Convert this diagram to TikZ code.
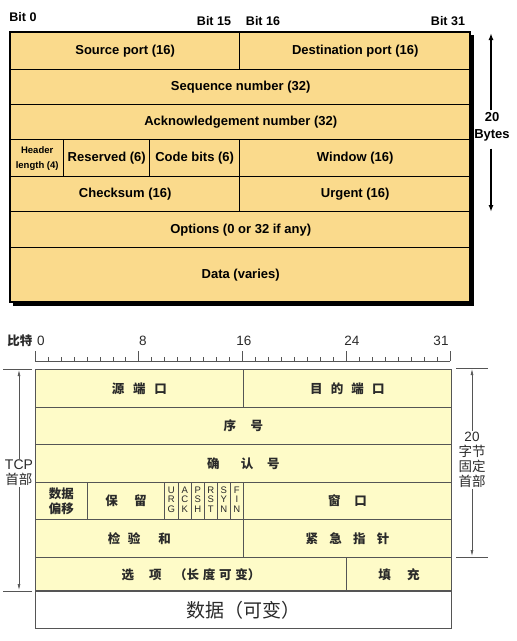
\documentclass[tikz,border=0pt]{standalone}
\usepackage{fontspec}
\setmainfont{Liberation Sans}
\newfontfamily\cjk{Noto Sans CJK SC}
\usetikzlibrary{arrows.meta}
\definecolor{tanfill}{HTML}{FADA8C}
\definecolor{creamfill}{HTML}{FEFBC8}
\definecolor{gline}{HTML}{555555}
\definecolor{gtext}{HTML}{2A2A2A}
\newcommand\fld[7]{\node[#1, minimum width={(#5-#3)*1pt}, minimum height={(#6-#4)*1pt}] (#2) at (#3,#4) {#7};}
\newcommand\zg[1]{\hspace{#1em}}
\begin{document}
\begin{tikzpicture}[x=1pt,y=-1pt,
  tf/.style={draw=black, line width=1.4pt, fill=tanfill, anchor=north west, inner sep=0pt,
    font=\bfseries\fontsize{13}{15}\selectfont, align=center},
  bf/.style={draw=gline, line width=0.8pt, fill=creamfill, anchor=north west, inner sep=0pt,
    font=\cjk\bfseries\fontsize{12.5}{15}\selectfont, text=gtext, align=center},
  flag/.style={draw=gline, line width=0.8pt, fill=creamfill, anchor=north west, inner sep=0pt,
    text=gtext, font=\fontsize{9.5}{9.5}\selectfont, align=center, text depth=3pt},
  bitlbl/.style={font=\bfseries\fontsize{12.5}{14}\selectfont},
  rulelbl/.style={font=\fontsize{13.5}{15}\selectfont, text=gtext},
  bigarrow/.style={-{Latex[length=7pt,width=5pt]}, line width=1.8pt},
  thinarrow/.style={-{Latex[length=6pt,width=3pt]}, line width=0.7pt, draw=gline},
  guide/.style={line width=0.7pt, draw=gline}]
\useasboundingbox (0,0) rectangle (517,641);

% ---------- top diagram ----------
\node[bitlbl] (b0) at (23,17) {Bit 0};
\node[bitlbl] (b15) at (214,21) {Bit 15};
\node[bitlbl] (b16) at (263,21) {Bit 16};
\node[bitlbl] (b31) at (448,21) {Bit 31};

\fill[black] (12.5,34.5) rectangle (473.5,305.5);
\fld{tf}{sport}{10}{32}{239}{69}{Source port (16)}
\fld{tf}{dport}{239}{32}{470}{69}{Destination port (16)}
\fld{tf}{seq}{10}{69}{470}{104}{Sequence number (32)}
\fld{tf}{ack}{10}{104}{470}{139}{Acknowledgement number (32)}
\fld{tf}{hlen}{10}{139}{63}{176}{\fontsize{9.5}{10.5}\selectfont Header\\\fontsize{9.5}{10.5}\selectfont length (4)}
\fld{tf}{resv}{63}{139}{149}{176}{Reserved (6)}
\fld{tf}{code}{149}{139}{239}{176}{Code bits (6)}
\fld{tf}{win}{239}{139}{470}{176}{Window (16)}
\fld{tf}{csum}{10}{176}{239}{211}{Checksum (16)}
\fld{tf}{urg}{239}{176}{470}{211}{Urgent (16)}
\fld{tf}{opt}{10}{211}{470}{247}{Options (0 or 32 if any)}
\fld{tf}{data}{10}{247}{470}{302}{Data (varies)}
\draw[line width=2.2pt] (10,32) rectangle (470,302);

\node[font=\bfseries\fontsize{13}{17}\selectfont, align=center, inner sep=1pt] (bytes) at (492,127) {20\\Bytes};
\coordinate (ttop) at (491,33);
\coordinate (tbot) at (491,212);
\draw[bigarrow] (bytes.north) ++(-1,-1) -- (ttop);
\draw[bigarrow] (bytes.south) ++(-1,6) -- (tbot);

% ---------- bottom diagram ----------
\node[font=\cjk\bfseries\fontsize{12.5}{14}\selectfont, text=gtext] (bite) at (20,341) {比特};
\node[rulelbl] (r0) at (41,341) {0};
\node[rulelbl] (r8) at (143,341) {8};
\node[rulelbl] (r16) at (244,341) {16};
\node[rulelbl] (r24) at (352,341) {24};
\node[rulelbl] (r31) at (441,341) {31};
\draw[guide, line width=0.6pt] (35,361) -- (450,361);
\foreach \i in {0,...,32}{
  \pgfmathsetmacro\xx{35+\i*12.97}
  \draw[guide, line width=0.6pt] (\xx,361) -- (\xx,357);
}
\foreach \i in {0,8,16,24,32}{
  \pgfmathsetmacro\xx{35+\i*12.97}
  \draw[guide, line width=0.7pt] (\xx,361) -- (\xx,351);
}

\fld{bf}{ysport}{35}{369}{243}{407}{源\zg{0.7}端\zg{0.7}口}
\fld{bf}{ydport}{243}{369}{451}{407}{目\zg{0.65}的\zg{0.65}端\zg{0.65}口}
\fld{bf}{yseq}{35}{407}{451}{444}{序\zg{1.15}号}
\fld{bf}{yack}{35}{444}{451}{482}{确\zg{1.7}认\zg{1.1}号}
\fld{bf}{yoff}{35}{482}{87}{519}{\fontsize{12.5}{15}\selectfont 数据\\偏移}
\fld{bf}{yresv}{87}{482}{164}{519}{保\zg{1.3}留}
\fld{flag}{furg}{164}{482}{178}{519}{U\\R\\G}
\fld{flag}{fack}{178}{482}{191}{519}{A\\C\\K}
\fld{flag}{fpsh}{191}{482}{204}{519}{P\\S\\H}
\fld{flag}{frst}{204}{482}{217}{519}{R\\S\\T}
\fld{flag}{fsyn}{217}{482}{230}{519}{S\\Y\\N}
\fld{flag}{ffin}{230}{482}{243}{519}{F\\I\\N}
\fld{bf}{ywin}{243}{482}{451}{519}{窗\zg{1.1}口}
\fld{bf}{ycsum}{35}{519}{243}{557}{检\zg{0.6}验\zg{1.45}和}
\fld{bf}{yurg}{243}{519}{451}{557}{紧\zg{0.9}急\zg{0.9}指\zg{0.9}针}
\fld{bf}{yopt}{35}{557}{346}{591}{选\zg{1.2}项\zg{1}（长\zg{0.3}度\zg{0.3}可\zg{0.3}变）}
\fld{bf}{ypad}{346}{557}{451}{591}{填\zg{1.3}充}
\fld{bf, fill=white}{ydata}{35}{591}{451}{628}{\mdseries\fontsize{19}{22}\selectfont 数据（可变）}
\draw[draw=gline, line width=1.8pt] (35,591) -- (451,591);
\draw[draw=gline, line width=1pt] (35,369) rectangle (451,628);

% left bracket
\draw[guide] (3,369) -- (32,369);
\draw[guide] (3,591) -- (32,591);
\node[font=\fontsize{14}{17}\selectfont, text=gtext, align=center, inner sep=1pt] (tcp) at (19,473) {TCP\\[-2pt]{\cjk\fontsize{13.5}{15}\selectfont 首部}};
\coordinate (ltop) at (19,370);
\coordinate (lbot) at (19,590);
\draw[thinarrow] (tcp.north) -- (ltop);
\draw[thinarrow] (tcp.south) -- (lbot);

% right bracket
\draw[guide] (456,368) -- (488,368);
\draw[guide] (456,557) -- (488,557);
\node[font=\cjk\fontsize{13.5}{15}\selectfont, text=gtext, align=center, inner sep=1pt] (fix) at (472,460) {{\setmainfont{Liberation Sans}\rmfamily 20}\\字节\\固定\\首部};
\coordinate (rtop) at (472,369);
\coordinate (rbot) at (472,556);
\draw[thinarrow] (fix.north) -- (rtop);
\draw[thinarrow] (fix.south) -- (rbot);
\end{tikzpicture}
\end{document}
